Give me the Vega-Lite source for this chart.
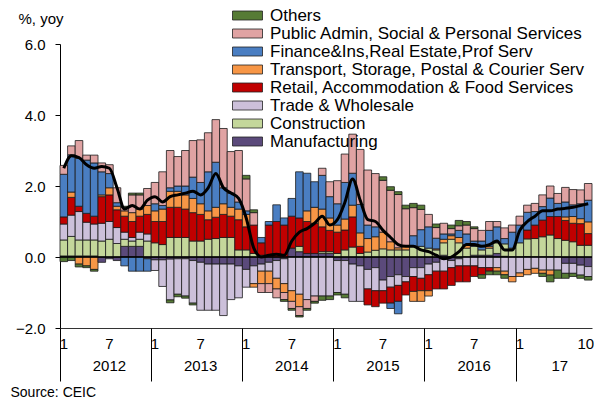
{
  "$schema": "https://vega.github.io/schema/vega-lite/v6.json",
  "width": 532,
  "height": 284,
  "autosize": {"type": "none"},
  "padding": {"left": 60, "top": 44, "right": 2, "bottom": 72},
  "background": "white",
  "config": {
    "view": {"stroke": null},
    "font": "Liberation Sans",
    "axis": {"labelFont": "Liberation Sans", "titleFont": "Liberation Sans", "labelColor": "#000", "titleColor": "#000"}
  },
  "data": {
    "values": [
      {"t":"2012-01","s1":0.03,"s2":0.45,"s3":0.45,"s4":0.2,"s5":0,"s6":1.2,"s7":0.25,"s8":-0.13,"tot":2.5},
      {"t":"2012-02","s1":0.03,"s2":0.55,"s3":0.6,"s4":0.5,"s5":0.15,"s6":1.05,"s7":0.25,"s8":-0.1,"tot":2.85},
      {"t":"2012-03","s1":0.03,"s2":0.45,"s3":0.8,"s4":0.15,"s5":-0.2,"s6":1.35,"s7":0.5,"s8":-0.08,"tot":2.8},
      {"t":"2012-04","s1":0.03,"s2":0.45,"s3":0.5,"s4":0.25,"s5":-0.25,"s6":1.5,"s7":0.14,"s8":-0.05,"tot":2.6},
      {"t":"2012-05","s1":0.03,"s2":0.45,"s3":0.45,"s4":0.22,"s5":-0.35,"s6":1.5,"s7":0.22,"s8":-0.05,"tot":2.5},
      {"t":"2012-06","s1":-0.15,"s2":0.45,"s3":0.5,"s4":0.75,"s5":0.05,"s6":0.65,"s7":0.25,"s8":0,"tot":2.55},
      {"t":"2012-07","s1":-0.05,"s2":0.5,"s3":0.5,"s4":0.75,"s5":0.2,"s6":0.4,"s7":0.25,"s8":0,"tot":2.5},
      {"t":"2012-08","s1":-0.1,"s2":0.38,"s3":0.45,"s4":0.5,"s5":0.1,"s6":0.1,"s7":0.42,"s8":0,"tot":1.95},
      {"t":"2012-09","s1":0.3,"s2":0.2,"s3":0.2,"s4":0.45,"s5":0.15,"s6":-0.25,"s7":0.1,"s8":0.03,"tot":1.35},
      {"t":"2012-10","s1":0.3,"s2":0.15,"s3":0.1,"s4":0.45,"s5":0.25,"s6":-0.4,"s7":0.5,"s8":0.05,"tot":1.45},
      {"t":"2012-11","s1":0.3,"s2":0.2,"s3":0.2,"s4":0.45,"s5":0.2,"s6":-0.4,"s7":0.4,"s8":0.05,"tot":1.35},
      {"t":"2012-12","s1":-0.05,"s2":0.45,"s3":0.2,"s4":0.55,"s5":0.25,"s6":-0.35,"s7":0.48,"s8":0,"tot":1.6},
      {"t":"2013-01","s1":-0.08,"s2":0.4,"s3":-0.3,"s4":0.6,"s5":0.3,"s6":0.2,"s7":0.6,"s8":0,"tot":1.7},
      {"t":"2013-02","s1":-0.08,"s2":0.35,"s3":-0.75,"s4":0.65,"s5":0.35,"s6":0.1,"s7":0.95,"s8":0,"tot":1.55},
      {"t":"2013-03","s1":-0.06,"s2":0.55,"s3":-1.15,"s4":0.85,"s5":0.45,"s6":0.1,"s7":1.05,"s8":-0.08,"tot":1.7},
      {"t":"2013-04","s1":-0.05,"s2":0.55,"s3":-1.0,"s4":0.85,"s5":0.45,"s6":0.15,"s7":0.83,"s8":-0.07,"tot":1.75},
      {"t":"2013-05","s1":-0.05,"s2":0.55,"s3":-1.05,"s4":0.8,"s5":0.4,"s6":0.25,"s7":1.0,"s8":-0.06,"tot":1.8},
      {"t":"2013-06","s1":-0.1,"s2":0.45,"s3":-1.2,"s4":0.8,"s5":0.4,"s6":0.6,"s7":1.03,"s8":-0.05,"tot":1.85},
      {"t":"2013-07","s1":-0.15,"s2":0.45,"s3":-1.35,"s4":0.75,"s5":0.3,"s6":0.6,"s7":1.2,"s8":0,"tot":1.75},
      {"t":"2013-08","s1":-0.2,"s2":0.5,"s3":-1.3,"s4":0.55,"s5":0.25,"s6":1.1,"s7":1.1,"s8":0,"tot":1.95},
      {"t":"2013-09","s1":-0.2,"s2":0.52,"s3":-1.3,"s4":0.6,"s5":0.28,"s6":1.27,"s7":1.2,"s8":0,"tot":2.35},
      {"t":"2013-10","s1":-0.2,"s2":0.55,"s3":-1.45,"s4":0.65,"s5":0.3,"s6":0.45,"s7":1.67,"s8":0,"tot":1.95},
      {"t":"2013-11","s1":-0.2,"s2":0.55,"s3":-1.0,"s4":0.6,"s5":0.25,"s6":0.4,"s7":1.17,"s8":0,"tot":1.8},
      {"t":"2013-12","s1":-0.25,"s2":0.2,"s3":-0.9,"s4":0.85,"s5":0.3,"s6":0.2,"s7":1.45,"s8":0,"tot":1.65},
      {"t":"2014-01","s1":-0.35,"s2":0.2,"s3":-0.5,"s4":0.65,"s5":0.35,"s6":0.1,"s7":0.9,"s8":0.1,"tot":1.1},
      {"t":"2014-02","s1":-0.25,"s2":0.1,"s3":-0.5,"s4":0.8,"s5":-0.1,"s6":0,"s7":0.35,"s8":0.08,"tot":0.25},
      {"t":"2014-03","s1":-0.2,"s2":0.05,"s3":-0.2,"s4":0.35,"s5":-0.35,"s6":0.15,"s7":-0.25,"s8":0,"tot":0},
      {"t":"2014-04","s1":-0.15,"s2":0,"s3":-0.25,"s4":0.9,"s5":-0.35,"s6":0.1,"s7":-0.25,"s8":0,"tot":0.05},
      {"t":"2014-05","s1":-0.1,"s2":0,"s3":-0.5,"s4":1.0,"s5":-0.3,"s6":0.47,"s7":-0.25,"s8":0,"tot":0.08},
      {"t":"2014-06","s1":-0.05,"s2":0,"s3":-0.7,"s4":0.9,"s5":-0.25,"s6":0.2,"s7":-0.2,"s8":-0.05,"tot":0.05},
      {"t":"2014-07","s1":0.25,"s2":0,"s3":-0.95,"s4":0.9,"s5":-0.3,"s6":0.5,"s7":-0.2,"s8":-0.05,"tot":0.45},
      {"t":"2014-08","s1":0.15,"s2":0.15,"s3":-1.05,"s4":0.8,"s5":-0.35,"s6":1.3,"s7":-0.25,"s8":-0.04,"tot":0.7},
      {"t":"2014-09","s1":0.1,"s2":0,"s3":-1.2,"s4":0.9,"s5":0.3,"s6":1.06,"s7":-0.25,"s8":-0.05,"tot":0.8},
      {"t":"2014-10","s1":0.1,"s2":0,"s3":-1.1,"s4":0.85,"s5":0.45,"s6":0.72,"s7":-0.15,"s8":-0.05,"tot":0.95},
      {"t":"2014-11","s1":0.1,"s2":0.05,"s3":-1.1,"s4":0.7,"s5":0.5,"s6":0.95,"s7":0.2,"s8":-0.12,"tot":1.15},
      {"t":"2014-12","s1":0.1,"s2":0.05,"s3":-1.1,"s4":0.6,"s5":0.35,"s6":0.6,"s7":0.42,"s8":-0.1,"tot":0.9},
      {"t":"2015-01","s1":-0.1,"s2":0.1,"s3":-0.9,"s4":0.6,"s5":0.2,"s6":0.6,"s7":0.65,"s8":-0.07,"tot":1.05},
      {"t":"2015-02","s1":-0.1,"s2":0.2,"s3":-0.95,"s4":0.56,"s5":0.31,"s6":1.03,"s7":0.8,"s8":-0.1,"tot":1.55},
      {"t":"2015-03","s1":-0.2,"s2":0.28,"s3":-1.05,"s4":0.85,"s5":0.33,"s6":0.9,"s7":1.1,"s8":0,"tot":2.2},
      {"t":"2015-04","s1":-0.25,"s2":0.1,"s3":-1.0,"s4":0.2,"s5":0.38,"s6":0.8,"s7":1.55,"s8":0,"tot":1.6},
      {"t":"2015-05","s1":-0.35,"s2":0.14,"s3":-0.55,"s4":-0.45,"s5":0.38,"s6":0.38,"s7":1.55,"s8":0,"tot":1.05},
      {"t":"2015-06","s1":-0.3,"s2":0.19,"s3":-0.65,"s4":-0.45,"s5":0.38,"s6":0.28,"s7":1.5,"s8":0,"tot":1.0},
      {"t":"2015-07","s1":-0.65,"s2":0.23,"s3":-0.3,"s4":-0.35,"s5":0.47,"s6":0,"s7":1.46,"s8":0.1,"tot":0.75},
      {"t":"2015-08","s1":-0.55,"s2":0.2,"s3":-0.3,"s4":-0.45,"s5":0.23,"s6":-0.15,"s7":1.45,"s8":0.1,"tot":0.55},
      {"t":"2015-09","s1":-0.5,"s2":0.2,"s3":-0.3,"s4":-0.45,"s5":0.06,"s6":-0.35,"s7":1.5,"s8":0.08,"tot":0.35},
      {"t":"2015-10","s1":-0.55,"s2":0.2,"s3":-0.15,"s4":-0.37,"s5":0.1,"s6":0,"s7":1.06,"s8":0.1,"tot":0.3},
      {"t":"2015-11","s1":-0.3,"s2":0.3,"s3":-0.25,"s4":-0.42,"s5":-0.28,"s6":0.3,"s7":0.79,"s8":0.12,"tot":0.3},
      {"t":"2015-12","s1":-0.3,"s2":0.3,"s3":-0.3,"s4":-0.35,"s5":-0.3,"s6":0.47,"s7":0.57,"s8":0.12,"tot":0.2},
      {"t":"2016-01","s1":-0.2,"s2":0.25,"s3":-0.3,"s4":-0.45,"s5":-0.15,"s6":0.6,"s7":0.35,"s8":0,"tot":0.15},
      {"t":"2016-02","s1":-0.15,"s2":0.2,"s3":-0.25,"s4":-0.5,"s5":0.03,"s6":0.3,"s7":0.3,"s8":0.1,"tot":0.05},
      {"t":"2016-03","s1":0.05,"s2":0.35,"s3":-0.4,"s4":-0.5,"s5":0.1,"s6":0.15,"s7":0.3,"s8":0,"tot":-0.05},
      {"t":"2016-04","s1":-0.1,"s2":0.5,"s3":-0.2,"s4":-0.5,"s5":0.1,"s6":0.05,"s7":0.15,"s8":0.1,"tot":0},
      {"t":"2016-05","s1":-0.05,"s2":0.4,"s3":-0.2,"s4":-0.45,"s5":0.15,"s6":0.2,"s7":0.13,"s8":0.15,"tot":0.15},
      {"t":"2016-06","s1":0,"s2":0.25,"s3":-0.25,"s4":-0.45,"s5":0.1,"s6":0.3,"s7":0.25,"s8":0.1,"tot":0.35},
      {"t":"2016-07","s1":0.05,"s2":0.25,"s3":-0.25,"s4":-0.3,"s5":0,"s6":0.15,"s7":0.35,"s8":0.05,"tot":0.35},
      {"t":"2016-08","s1":0.05,"s2":0.15,"s3":-0.3,"s4":-0.2,"s5":0,"s6":0.25,"s7":0.3,"s8":-0.1,"tot":0.3},
      {"t":"2016-09","s1":0.05,"s2":0.2,"s3":-0.3,"s4":-0.1,"s5":0.05,"s6":0.45,"s7":0.25,"s8":-0.1,"tot":0.35},
      {"t":"2016-10","s1":0.1,"s2":0.3,"s3":-0.3,"s4":0,"s5":-0.1,"s6":0.45,"s7":0.15,"s8":-0.1,"tot":0.45},
      {"t":"2016-11","s1":0.02,"s2":0.35,"s3":-0.4,"s4":0,"s5":-0.1,"s6":0.15,"s7":0.3,"s8":-0.1,"tot":0.2},
      {"t":"2016-12","s1":0,"s2":0.25,"s3":-0.55,"s4":0,"s5":-0.15,"s6":0.45,"s7":0.2,"s8":0,"tot":0.2},
      {"t":"2017-01","s1":0,"s2":0.4,"s3":-0.45,"s4":0,"s5":-0.1,"s6":0.5,"s7":0.25,"s8":0,"tot":0.75},
      {"t":"2017-02","s1":0.01,"s2":0.5,"s3":-0.35,"s4":0.25,"s5":-0.15,"s6":0.5,"s7":0.2,"s8":0,"tot":1.0},
      {"t":"2017-03","s1":0,"s2":0.52,"s3":-0.32,"s4":0.38,"s5":-0.14,"s6":0.38,"s7":0.23,"s8":0,"tot":1.15},
      {"t":"2017-04","s1":0,"s2":0.57,"s3":-0.37,"s4":0.47,"s5":-0.09,"s6":0.38,"s7":0.33,"s8":-0.09,"tot":1.3},
      {"t":"2017-05","s1":0,"s2":0.62,"s3":-0.37,"s4":0.52,"s5":-0.14,"s6":0.52,"s7":0.34,"s8":-0.19,"tot":1.3},
      {"t":"2017-06","s1":0,"s2":0.52,"s3":-0.37,"s4":0.62,"s5":0,"s6":0.37,"s7":0.28,"s8":-0.23,"tot":1.35},
      {"t":"2017-07","s1":-0.18,"s2":0.47,"s3":-0.28,"s4":0.56,"s5":0.1,"s6":0.42,"s7":0.41,"s8":-0.14,"tot":1.37},
      {"t":"2017-08","s1":-0.18,"s2":0.43,"s3":-0.28,"s4":0.52,"s5":0.19,"s6":0.33,"s7":0.43,"s8":-0.09,"tot":1.4},
      {"t":"2017-09","s1":-0.23,"s2":0.33,"s3":-0.28,"s4":0.61,"s5":0.14,"s6":0.42,"s7":0.39,"s8":-0.09,"tot":1.45},
      {"t":"2017-10","s1":-0.27,"s2":0.33,"s3":-0.28,"s4":0.33,"s5":0.33,"s6":0.61,"s7":0.47,"s8":-0.1,"tot":1.5}
    ]
  },
  "layer": [
    {
      "transform": [
        {"fold": ["s1","s2","s3","s4","s5","s6","s7","s8"], "as": ["key","v"]},
        {"filter": "datum.v != 0"}
      ],
      "mark": {"type": "bar", "stroke": "#1a1a1a", "strokeWidth": 0.8},
      "encoding": {
        "x": {
          "field": "t", "type": "ordinal",
          "scale": {"paddingInner": 0, "paddingOuter": 0},
          "axis": {
            "values": ["2012-01","2012-07","2013-01","2013-07","2014-01","2014-07","2015-01","2015-07","2016-01","2016-07","2017-01","2017-10"],
            "bandPosition": 0.5, "ticks": false, "domain": true, "domainColor": "#333", "domainWidth": 1,
            "labelExpr": "'' + toNumber(slice(datum.value,5,7))",
            "labelAlign": {"condition": {"test": "datum.value=='2017-10'", "value": "right"}, "value": "center"},
            "labelOffset": {"condition": {"test": "datum.value=='2017-10'", "value": 6}, "value": 0},
            "labelPadding": 8, "labelFontSize": 15, "labelAngle": 0, "title": null, "grid": false
          }
        },
        "y": {
          "field": "v", "type": "quantitative", "stack": "zero",
          "scale": {"domain": [-2, 6], "nice": false, "zero": false},
          "axis": {
            "values": [-2, 0, 2, 4, 6], "format": ".1f", "grid": false,
            "ticks": true, "tickSize": 5, "tickColor": "#000", "domainColor": "#000",
            "labelPadding": 10, "labelFontSize": 15,
            "title": "%, yoy", "titleAngle": 0, "titleX": -42, "titleY": -26,
            "titleAlign": "left", "titleBaseline": "middle", "titleFontSize": 15, "titleFontWeight": "normal"
          }
        },
        "color": {
          "field": "key", "type": "nominal",
          "scale": {
            "domain": ["s8","s7","s6","s5","s4","s3","s2","s1"],
            "range": ["#567B35","#E0A3A3","#4A7EC2","#F79646","#C00000","#CCC0DA","#C4D79B","#5B4A7B"]
          },
          "legend": {
            "orient": "none", "legendX": 179, "legendY": -37, "title": null,
            "symbolType": "M-3,-0.9L3,-0.9L3,0.9L-3,0.9Z", "symbolSize": 100,
            "symbolStrokeColor": "#222", "symbolStrokeWidth": 0.8,
            "labelFontSize": 17, "labelFont": "Liberation Sans", "labelColor": "#000",
            "labelOffset": 14, "rowPadding": 0, "padding": 0, "labelLimit": 0,
            "labelExpr": "datum.value=='s1'?'Manufacturing':datum.value=='s2'?'Construction':datum.value=='s3'?'Trade & Wholesale':datum.value=='s4'?'Retail, Accommodation & Food Services':datum.value=='s5'?'Transport, Storage, Postal & Courier Serv':datum.value=='s6'?'Finance&Ins,Real Estate,Prof Serv':datum.value=='s7'?'Public Admin, Social & Personal Services':'Others'"
          }
        },
        "order": {"field": "key", "sort": "ascending"}
      }
    },
    {
      "data": {"values": [{"zero": 0}]},
      "mark": {"type": "rule", "color": "#000", "strokeWidth": 1.5},
      "encoding": {"y": {"field": "zero", "type": "quantitative", "axis": null}}
    },
    {
      "mark": {"type": "line", "color": "#000", "strokeWidth": 3, "interpolate": "monotone"},
      "encoding": {
        "x": {
          "field": "t", "type": "ordinal",
          "axis": {
            "orient": "bottom",
            "values": ["2012-01","2013-01","2014-01","2015-01","2016-01","2017-01"],
            "bandPosition": 0, "domain": false, "grid": false,
            "ticks": true, "tickSize": 53, "tickColor": "#000", "tickWidth": 1,
            "labelExpr": "datum.value=='2017-01'?'17':slice(datum.value,0,4)",
            "labelOffset": {"condition": {"test": "datum.value=='2017-01'", "value": 40}, "value": 45.6},
            "labelPadding": -23, "labelFontSize": 15, "labelAngle": 0, "labelAlign": "center",
            "title": "Source: CEIC", "titleX": -50, "titleY": 64, "titleAlign": "left",
            "titleBaseline": "middle", "titleFontSize": 14, "titleFontWeight": "normal"
          }
        },
        "y": {"field": "tot", "type": "quantitative", "axis": null}
      }
    }
  ],
  "resolve": {"axis": {"x": "independent", "y": "independent"}}
}
